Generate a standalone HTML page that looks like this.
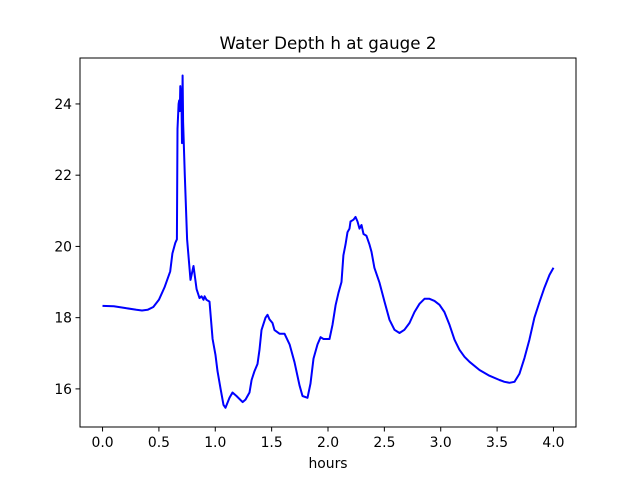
<!DOCTYPE html>
<html><head><meta charset="utf-8"><style>
body{margin:0;background:#fff;}
svg{display:block;font-family:"DejaVu Sans","Liberation Sans",sans-serif;}
</style></head><body>
<svg id="chart" width="640" height="480">
<rect x="0" y="0" width="640" height="480" fill="#fff"/>
<text x="328" y="49" text-anchor="middle" font-size="16.7" fill="#000">Water Depth h at gauge 2</text>
<g id="xt"></g>
<g id="yt"></g>
<path id="line" fill="none" stroke="#0000ff" stroke-width="2" stroke-linejoin="round"/>
<rect x="80" y="58" width="496" height="369" fill="none" stroke="#000" stroke-width="1"/>
<text x="328" y="468" text-anchor="middle" font-size="13.9" fill="#000">hours</text>
</svg>
<script>
const times=[0,0.1,0.2,0.3,0.35,0.4,0.45,0.5,0.55,0.6,0.62,0.645,0.66,0.665,0.675,0.68,0.685,0.69,0.7,0.705,0.71,0.715,0.73,0.75,0.78,0.807,0.834,0.86,0.878,0.896,0.905,0.922,0.949,0.976,1.002,1.02,1.047,1.073,1.091,1.126,1.153,1.188,1.242,1.268,1.304,1.322,1.348,1.375,1.392,1.41,1.446,1.463,1.481,1.508,1.525,1.57,1.614,1.659,1.703,1.747,1.774,1.818,1.845,1.871,1.907,1.934,1.96,2.013,2.04,2.067,2.093,2.12,2.137,2.155,2.173,2.191,2.2,2.226,2.244,2.262,2.279,2.297,2.315,2.341,2.368,2.386,2.412,2.457,2.501,2.546,2.59,2.634,2.678,2.723,2.767,2.812,2.856,2.9,2.945,2.989,3.033,3.078,3.122,3.166,3.211,3.255,3.344,3.432,3.521,3.565,3.61,3.654,3.698,3.743,3.787,3.831,3.876,3.92,3.965,4.0];
const depths=[18.33,18.32,18.27,18.22,18.2,18.22,18.3,18.5,18.85,19.3,19.8,20.1,20.2,23.3,24.0,24.1,23.8,24.5,24.0,22.9,24.8,23.5,22.0,20.2,19.06,19.45,18.8,18.55,18.6,18.5,18.6,18.5,18.45,17.4,16.95,16.5,16.0,15.55,15.47,15.75,15.9,15.8,15.63,15.7,15.9,16.25,16.5,16.7,17.1,17.65,18.0,18.08,17.95,17.85,17.65,17.55,17.55,17.25,16.75,16.1,15.8,15.75,16.15,16.85,17.25,17.45,17.4,17.4,17.8,18.35,18.7,19.0,19.75,20.05,20.4,20.5,20.7,20.75,20.83,20.7,20.5,20.6,20.35,20.3,20.05,19.85,19.4,18.98,18.45,17.94,17.66,17.57,17.66,17.85,18.16,18.39,18.53,18.53,18.47,18.36,18.16,17.8,17.38,17.1,16.9,16.76,16.53,16.37,16.25,16.2,16.17,16.2,16.42,16.87,17.38,18.0,18.44,18.84,19.2,19.4];
const xTicks=[0,0.5,1,1.5,2,2.5,3,3.5,4];
const xTickLabels=["0.0","0.5","1.0","1.5","2.0","2.5","3.0","3.5","4.0"];
const yTicks=[16,18,20,22,24];
const yTickLabels=["16","18","20","22","24"];
const X0=80,X1=576,Y0=427,Y1=58;
const xMin=-0.2,xMax=4.2,yMin=14.93,yMax=25.29;
const sx=v=>X0+(v-xMin)/(xMax-xMin)*(X1-X0);
const sy=v=>Y0-(v-yMin)/(yMax-yMin)*(Y0-Y1);
const NS="http://www.w3.org/2000/svg";
const xt=document.getElementById('xt'),yt=document.getElementById('yt');
xTicks.forEach((t,i)=>{
  const l=document.createElementNS(NS,'line');
  
  
  l.setAttribute('x1',sx(t));l.setAttribute('x2',sx(t));l.setAttribute('y1',Y0);l.setAttribute('y2',Y0+4.5);l.setAttribute('stroke','#000');
  xt.appendChild(l);
  const s=document.createElementNS(NS,'text');
  
  
  s.setAttribute('x',sx(t));s.setAttribute('y',Y0+20);s.setAttribute('text-anchor','middle');s.setAttribute('font-size','13.9');
  s.textContent=xTickLabels[i];xt.appendChild(s);
});
yTicks.forEach((t,i)=>{
  const l=document.createElementNS(NS,'line');
  
  
  l.setAttribute('x1',X0-4.5);l.setAttribute('x2',X0);l.setAttribute('y1',sy(t));l.setAttribute('y2',sy(t));l.setAttribute('stroke','#000');
  yt.appendChild(l);
  const s=document.createElementNS(NS,'text');
  
  
  s.setAttribute('x',X0-8);s.setAttribute('y',sy(t)+5);s.setAttribute('text-anchor','end');s.setAttribute('font-size','13.9');
  s.textContent=yTickLabels[i];yt.appendChild(s);
});
document.getElementById('line').setAttribute('d',times.map((t,i)=>(i?'L':'M')+sx(t).toFixed(1)+','+sy(depths[i]).toFixed(1)).join(''));
</script>
</body></html>
